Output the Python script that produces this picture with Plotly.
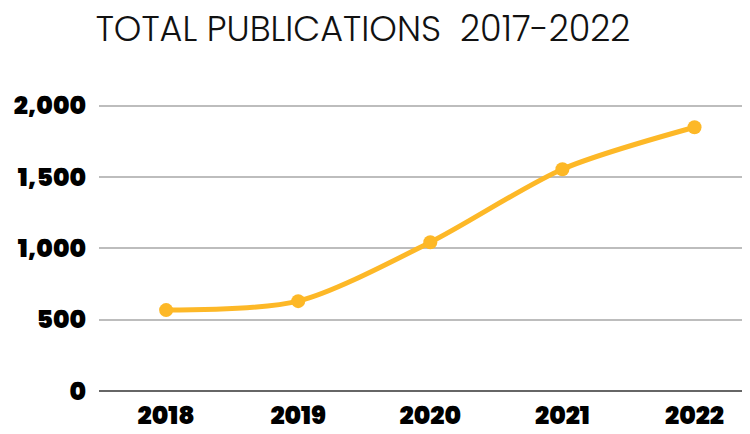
import plotly.graph_objects as go

# Chart data
years = ["2018", "2019", "2020", "2021", "2022"]
publications = [567, 630, 1043, 1555, 1849]
y_ticks = [0, 500, 1000, 1500, 2000]
y_tick_labels = ["0", "500", "1,000", "1,500", "2,000"]

line_color = "#FDB827"
tick_font = dict(family="Poppins, Inter, Arial", size=25, color="#000000", weight=900)

# the page body has an 8px margin, so the figure is 8px smaller than the window
fig_w, fig_h = 742, 426

fig = go.Figure()

fig.add_trace(go.Scatter(
    x=years,
    y=publications,
    mode="lines+markers",
    line=dict(color=line_color, width=5, shape="spline", smoothing=0.8),
    marker=dict(color=line_color, size=14),
    hoverinfo="x+y",
))

fig.update_layout(
    width=fig_w,
    height=fig_h,
    margin=dict(l=91, r=0, t=96, b=43, autoexpand=False),
    paper_bgcolor="white",
    plot_bgcolor="white",
    showlegend=False,
    title=dict(
        text="TOTAL PUBLICATIONS&nbsp;&nbsp;2017-2022",
        x=355 / fig_w,
        xanchor="center",
        y=1 - 21 / fig_h,
        yanchor="middle",
        font=dict(family="Poppins, Lato, Arial", size=35, color="#111111", weight=300),
    ),
)

fig.update_xaxes(
    type="category",
    range=[-0.508, 4.42],
    showgrid=False,
    showline=False,
    zeroline=False,
    ticks="",
    tickfont=tick_font,
    ticklabelstandoff=7,
    automargin=False,
)

fig.update_yaxes(
    range=[0, 2012],
    tickvals=y_ticks,
    ticktext=y_tick_labels,
    showgrid=True,
    gridcolor="#BDBDBD",
    gridwidth=2,
    zeroline=True,
    zerolinecolor="#666666",
    zerolinewidth=2,
    showline=False,
    ticks="",
    tickfont=tick_font,
    ticklabelstandoff=12,
    automargin=False,
)

fig.write_html("out.html")
